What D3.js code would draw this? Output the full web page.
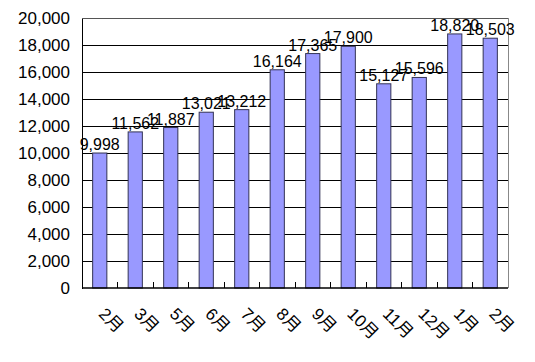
<!DOCTYPE html>
<html><head><meta charset="utf-8">
<script src="https://cdn.jsdelivr.net/npm/d3@7"></script>
<style>body{margin:0;background:#fff}</style>
</head><body>
<svg id="c" width="535" height="362"></svg>
<script>
const categories = ["2月","3月","5月","6月","7月","8月","9月","10月","11月","12月","1月","2月"];
const values = [9998, 11562, 11887, 13021, 13212, 16164, 17365, 17900, 15127, 15596, 18820, 18503];
const yTicks = [0,2000,4000,6000,8000,10000,12000,14000,16000,18000,20000];

const svg = d3.select("#c");
const m = {l:82, t:18, r:508, b:288};
const x = d3.scaleBand().domain(d3.range(categories.length)).range([m.l, m.r]).paddingInner(0.6).paddingOuter(0.3);
const xb = d3.scaleLinear().domain([0, categories.length]).range([m.l, m.r]);
const y = d3.scaleLinear().domain([0,20000]).range([m.b, m.t]);
const fmt = d3.format(",");
const font = "Arial, 'Liberation Sans', 'Noto Sans CJK JP', sans-serif";

// gridlines
svg.append("g").selectAll("line").data(yTicks.filter(d=>d>0 && d<20000)).join("line")
  .attr("x1", m.l).attr("x2", m.r).attr("y1", d=>y(d)).attr("y2", d=>y(d))
  .attr("stroke","#000").attr("stroke-width",1).attr("shape-rendering","crispEdges");
// plot border top/right
svg.append("line").attr("x1",m.l).attr("x2",m.r).attr("y1",y(20000)).attr("y2",y(20000)).attr("stroke","#555").attr("shape-rendering","crispEdges");
svg.append("line").attr("x1",m.r).attr("x2",m.r).attr("y1",m.t).attr("y2",m.b).attr("stroke","#888").attr("shape-rendering","crispEdges");

// bars
svg.append("g").selectAll("rect").data(values).join("rect")
  .attr("x",(d,i)=>x(i)).attr("width",x.bandwidth())
  .attr("y",d=>y(d)).attr("height",d=>y(0)-y(d))
  .attr("fill","#9999ff").attr("stroke","#333355").attr("stroke-width",1);

// y axis
const ya = d3.axisLeft(y).tickValues(yTicks).tickFormat(fmt).tickSize(0).tickPadding(12);
const gy = svg.append("g").attr("transform",`translate(${m.l},0)`).call(ya);
gy.select(".domain").attr("stroke","#000").attr("shape-rendering","crispEdges");
gy.selectAll("text").attr("font-family",font).attr("font-size",17).attr("fill","#000");

// x axis line + inward ticks at category boundaries
svg.append("line").attr("x1",m.l).attr("x2",m.r).attr("y1",m.b).attr("y2",m.b).attr("stroke","#000").attr("stroke-width",1.5);
svg.append("g").selectAll("line").data(d3.range(1,categories.length)).join("line")
  .attr("x1",d=>xb(d)).attr("x2",d=>xb(d)).attr("y1",m.b).attr("y2",m.b-6)
  .attr("stroke","#000").attr("shape-rendering","crispEdges");

// x labels rotated
svg.append("g").selectAll("text").data(categories).join("text")
  .attr("transform",(d,i)=>`translate(${x(i)+x.bandwidth()/2-2},${m.b+27}) rotate(45)`)
  .attr("text-anchor","start").attr("font-family",font).attr("font-size",17).attr("fill","#000")
  .text(d=>d);

// data labels
svg.append("g").selectAll("text").data(values).join("text")
  .attr("x",(d,i)=>x(i)+x.bandwidth()/2).attr("y",d=>y(d)-3)
  .attr("text-anchor","middle").attr("font-family",font).attr("font-size",16).attr("fill","#000")
  .text(d=>fmt(d));
</script>
</body></html>
